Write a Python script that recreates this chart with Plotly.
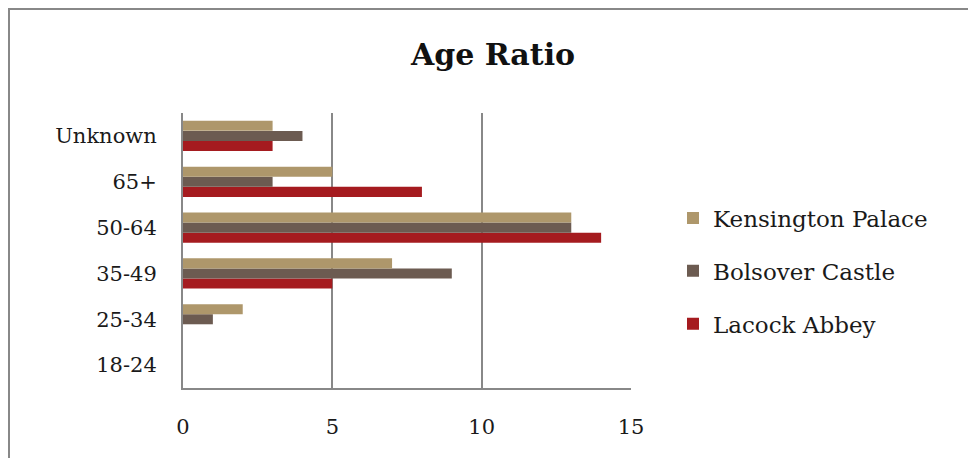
import plotly.graph_objects as go

categories = ["18-24", "25-34", "35-49", "50-64", "65+", "Unknown"]
kensington = [0, 2, 7, 13, 5, 3]
bolsover = [0, 1, 9, 13, 3, 4]
lacock = [0, 0, 5, 14, 8, 3]
x_ticks = [0, 5, 10, 15]

colors = {"Kensington Palace": "#AE976B", "Bolsover Castle": "#6C5B51", "Lacock Abbey": "#A51B1F"}
FONT = "DejaVu Serif, Liberation Serif, serif"

# page body has an 8px margin; figure is sized to fill the rest of the window
W, H = 968, 450
OFF = 8
PL, PR, PT, PB = 183, 631, 113, 388  # plot area in screen pixels
PW, PH = PR - PL, PB - PT

fig = go.Figure()
# Plotly places the first trace at the bottom of a horizontal group; add in reverse
series = [("Lacock Abbey", lacock, 3), ("Bolsover Castle", bolsover, 2), ("Kensington Palace", kensington, 1)]
for name, vals, rank in series:
    fig.add_trace(go.Bar(
        y=categories, x=vals, name=name, orientation="h",
        marker=dict(color=colors[name], line=dict(width=0)),
        legendgroup=name, legendrank=rank,
    ))

fig.update_layout(
    width=W, height=H,
    margin=dict(l=PL - OFF, r=W + OFF - PR, t=PT - OFF, b=H + OFF - PB),
    paper_bgcolor="white", plot_bgcolor="white",
    barmode="group", bargap=0.34, bargroupgap=0,
    font=dict(family=FONT, size=21, color="#1a1a1a"),
    title=dict(text="<b>Age Ratio</b>", x=(493 - OFF) / W, xanchor="center",
               y=1 - (54 - OFF) / H, yanchor="middle",
               font=dict(family=FONT, size=30, color="#111111")),
    showlegend=True,
    legend=dict(x=(673 - PL) / PW, xanchor="left", y=(PB - 271) / PH, yanchor="middle",
                traceorder="grouped", tracegroupgap=20,
                font=dict(family=FONT, size=23, color="#1a1a1a"),
                itemwidth=30, bgcolor="rgba(0,0,0,0)"),
    xaxis=dict(range=[0, 15], tickvals=x_ticks, showgrid=True, gridcolor="#888888", gridwidth=2,
               showline=True, linecolor="#888888", linewidth=2, zeroline=False,
               ticks="", ticklen=0, ticklabelstandoff=19, tickfont=dict(size=21)),
    yaxis=dict(categoryorder="array", categoryarray=categories, showgrid=False,
               showline=True, linecolor="#888888", linewidth=2, ticks="", ticklabelstandoff=20,
               tickfont=dict(size=21)),
)

# outer chart border
fig.add_shape(type="rect", xref="paper", yref="paper",
              x0=(9 - PL) / PW, x1=(972 - PL) / PW,
              y0=(PB - 475) / PH, y1=1 + (PT - 9) / PH,
              line=dict(color="#888888", width=2), fillcolor="rgba(0,0,0,0)", layer="below")

fig.write_html("out.html")
